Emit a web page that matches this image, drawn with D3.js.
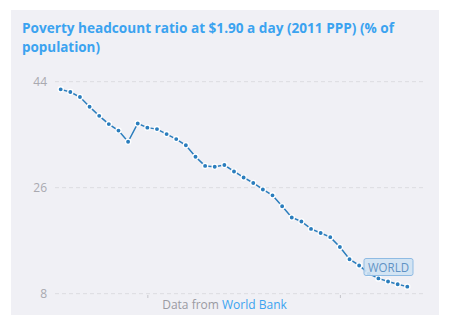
<!DOCTYPE html>
<html>
<head>
<meta charset="utf-8">
<script src="https://cdn.jsdelivr.net/npm/d3@7"></script>
<style>
  html, body { margin: 0; padding: 0; background: #ffffff; }
  svg { display: block; font-family: "Open Sans", "Noto Sans", sans-serif; }
</style>
</head>
<body>
<svg id="chart" width="450" height="324"></svg>
<script>
// World poverty headcount ratio at $1.90 a day (2011 PPP), % of population
const years = d3.range(1981, 2018);
const values = [
  42.7, 42.25, 41.4, 39.75, 38.2, 36.8, 35.7, 33.8, 36.9, 36.2,
  35.95, 35.1, 34.25, 33.2, 31.25, 29.7, 29.55, 29.85, 28.76, 27.74,
  26.8, 25.7, 24.7, 22.86, 20.94, 20.26, 19.0, 18.3, 17.6, 15.94,
  13.85, 12.8, 11.4, 10.6, 10.06, 9.6, 9.2
];
const yTicks = [8, 26, 44];
const xTicks = [1990, 2010];
const titleLines = ["Poverty headcount ratio at $1.90 a day (2011 PPP) (% of", "population)"];
const seriesLabel = "WORLD";
const sourcePrefix = "Data from ";
const sourceName = "World Bank";

const data = years.map((y, i) => ({ year: y, value: values[i] }));

const svg = d3.select("#chart");

// panel background
svg.append("rect")
  .attr("x", 11).attr("y", 10)
  .attr("width", 428).attr("height", 305)
  .attr("fill", "#f0f0f5");

// title, two lines
const titleWidths = [372, 78];
titleLines.forEach((t, i) => {
  svg.append("text")
    .attr("x", 22).attr("y", 33 + i * 19)
    .attr("fill", "#3ba3f0")
    .attr("font-size", 14.5)
    .attr("font-weight", 700)
    .attr("textLength", titleWidths[i])
    .attr("lengthAdjust", "spacingAndGlyphs")
    .text(t);
});

const x = d3.scaleLinear().domain([1981, 2017]).range([60.7, 407.3]);
const y = d3.scaleLinear().domain([8, 44]).range([293.7, 81.7]);

// horizontal dashed gridlines
svg.append("g").selectAll("line")
  .data(yTicks)
  .join("line")
  .attr("x1", 55).attr("x2", 426)
  .attr("y1", d => y(d)).attr("y2", d => y(d))
  .attr("stroke", "#dcdce0")
  .attr("stroke-width", 1)
  .attr("stroke-dasharray", "4,3");

// y axis labels
const yAxis = d3.axisLeft(y).tickValues(yTicks).tickSize(0).tickPadding(0);
const gy = svg.append("g").attr("transform", "translate(47,0)").call(yAxis);
gy.select(".domain").remove();
gy.selectAll("text")
  .attr("fill", "#a9a9b0")
  .attr("font-size", 12)
  .attr("font-family", "Open Sans, sans-serif");

// x axis: small tick marks only
const xAxis = d3.axisBottom(x).tickValues(xTicks).tickSize(3).tickFormat("");
const gx = svg.append("g").attr("transform", "translate(0,295)").call(xAxis);
gx.select(".domain").remove();
gx.selectAll("line").attr("stroke", "#c4c4ca");

// series line
const line = d3.line().x(d => x(d.year)).y(d => y(d.value));
svg.append("path")
  .datum(data)
  .attr("d", line)
  .attr("fill", "none")
  .attr("stroke", "#2a7dbd")
  .attr("stroke-width", 1.5);

// series points
svg.append("g").selectAll("circle")
  .data(data)
  .join("circle")
  .attr("cx", d => x(d.year))
  .attr("cy", d => y(d.value))
  .attr("r", 2.6)
  .attr("fill", "#2a7dbd")
  .attr("stroke", "#ffffff")
  .attr("stroke-width", 1.3);

// series label box near the end of the line
const lab = svg.append("g").attr("transform", "translate(388.5,267)");
lab.append("rect")
  .attr("x", -24.5).attr("y", -8.5)
  .attr("width", 49).attr("height", 17)
  .attr("rx", 2)
  .attr("fill", "#cfe2f3")
  .attr("fill-opacity", 0.9)
  .attr("stroke", "#8fbbe3")
  .attr("stroke-width", 1);
lab.append("text")
  .attr("x", -20.5)
  .attr("dy", "0.36em")
  .attr("fill", "#5f92c4")
  .attr("font-size", 13)
  .attr("textLength", 41)
  .attr("lengthAdjust", "spacingAndGlyphs")
  .text(seriesLabel);

// source note
const src = svg.append("text")
  .attr("x", 224.5).attr("y", 309)
  .attr("text-anchor", "middle")
  .attr("font-size", 12);
src.append("tspan").attr("fill", "#9a9aa2").text(sourcePrefix);
src.append("tspan").attr("fill", "#3ba3f0").text(sourceName);
</script>
</body>
</html>
